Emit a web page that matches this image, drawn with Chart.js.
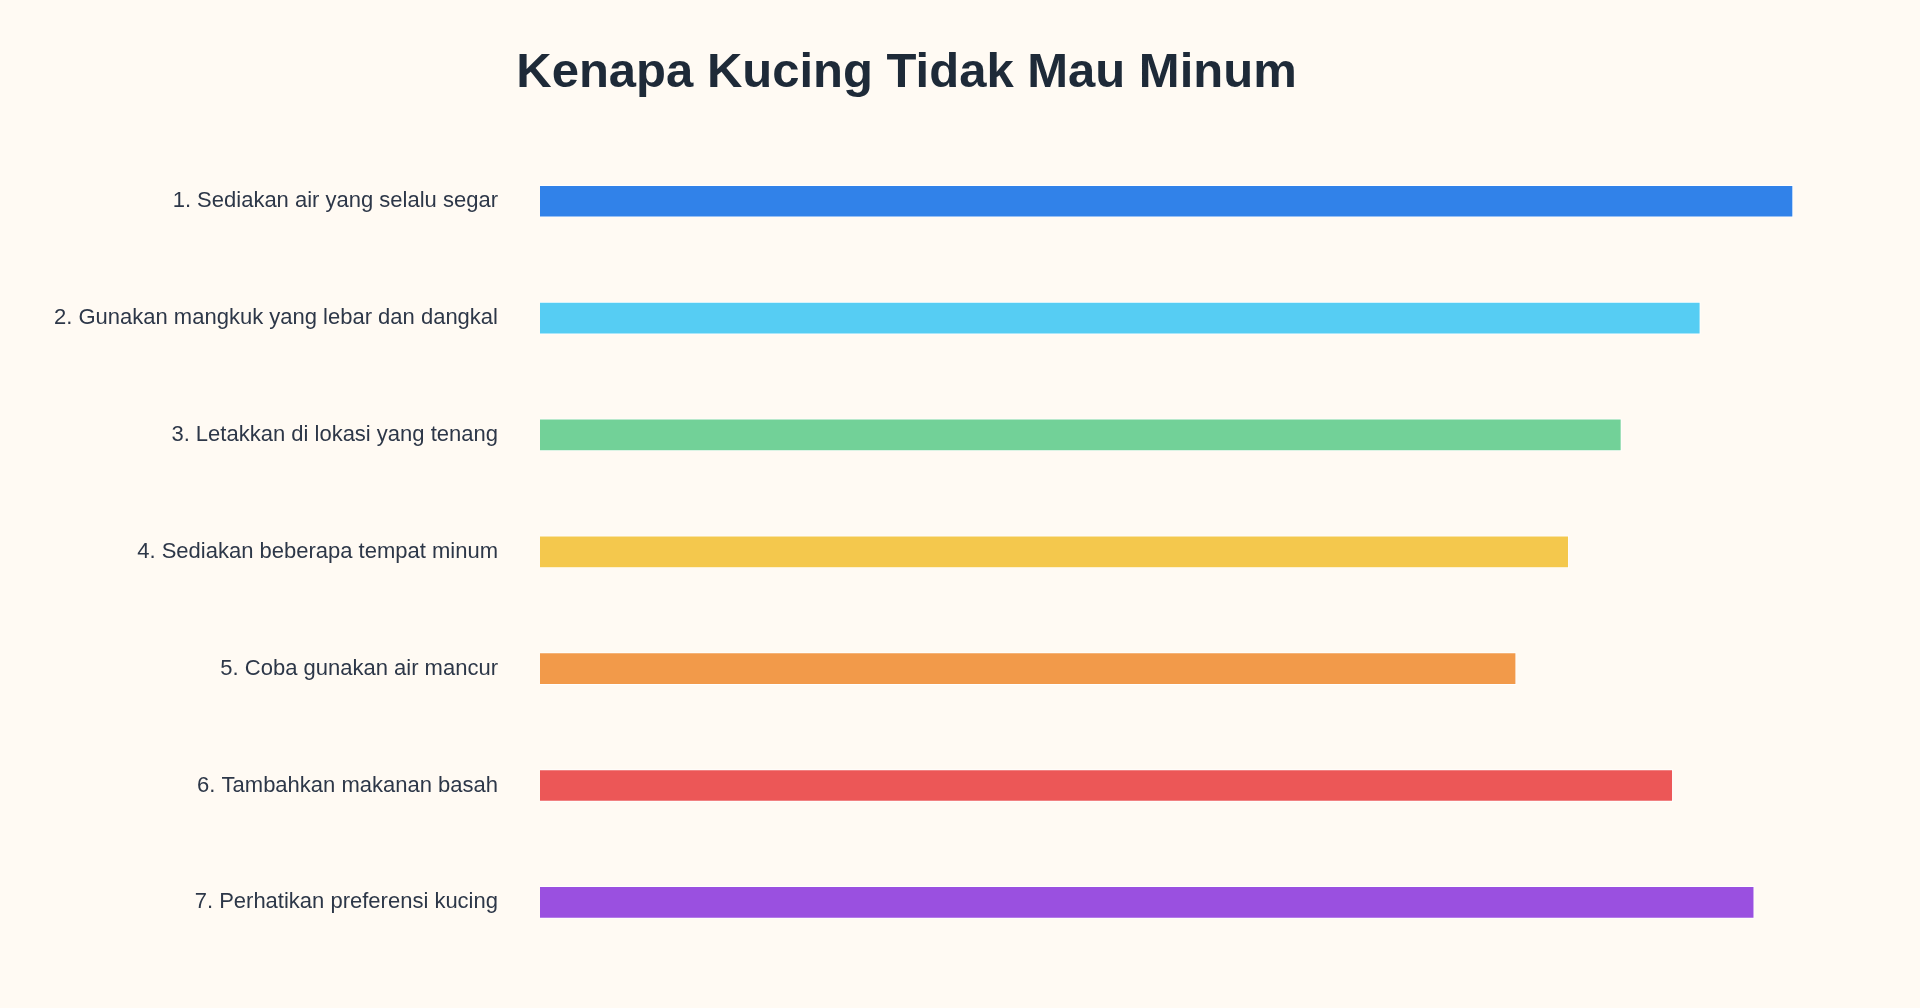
<!DOCTYPE html>
<html>
<head>
<meta charset="utf-8">
<script src="https://cdn.jsdelivr.net/npm/chart.js@4/dist/chart.umd.min.js"></script>
<style>
  html, body { margin: 0; padding: 0; background: #fffaf3; }
  #wrap { width: 1920px; height: 1008px; }
</style>
</head>
<body>
<div id="wrap"><canvas id="tipsChart"></canvas></div>
<script>
const categories = [
    '1. Sediakan air yang selalu segar',
    '2. Gunakan mangkuk yang lebar dan dangkal',
    '3. Letakkan di lokasi yang tenang',
    '4. Sediakan beberapa tempat minum',
    '5. Coba gunakan air mancur',
    '6. Tambahkan makanan basah',
    '7. Perhatikan preferensi kucing'
];
const scores = [100, 92.6, 86.3, 82.1, 77.9, 90.4, 96.9];
const barColors = ['#3182e9', '#56cdf3', '#72d198', '#f4c84d', '#f29a4a', '#ec5757', '#9a50e0'];

Chart.defaults.font.family = '"Liberation Sans", Arial, sans-serif';

const ctx = document.getElementById('tipsChart').getContext('2d');
new Chart(ctx, {
    type: 'bar',
    data: {
        labels: categories,
        datasets: [{
            data: scores,
            backgroundColor: barColors,
            borderColor: '#ffffff',
            borderWidth: 1,
            barThickness: 32
        }]
    },
    options: {
        indexAxis: 'y',
        responsive: true,
        maintainAspectRatio: false,
        animation: false,
        layout: { padding: { top: 44, right: 127, bottom: 39, left: 20 } },
        scales: {
            x: { display: false, min: 0, max: 100 },
            y: {
                grid: { display: false },
                border: { display: false },
                ticks: { color: '#2d3748', font: { size: 22 }, padding: 34 }
            }
        },
        plugins: {
            legend: { display: false },
            tooltip: { enabled: false },
            title: {
                display: true,
                text: 'Kenapa Kucing Tidak Mau Minum',
                color: '#1e2a38',
                font: { size: 49, weight: 'bold' },
                padding: { top: 0, bottom: 40 }
            }
        }
    }
});
</script>
</body>
</html>
